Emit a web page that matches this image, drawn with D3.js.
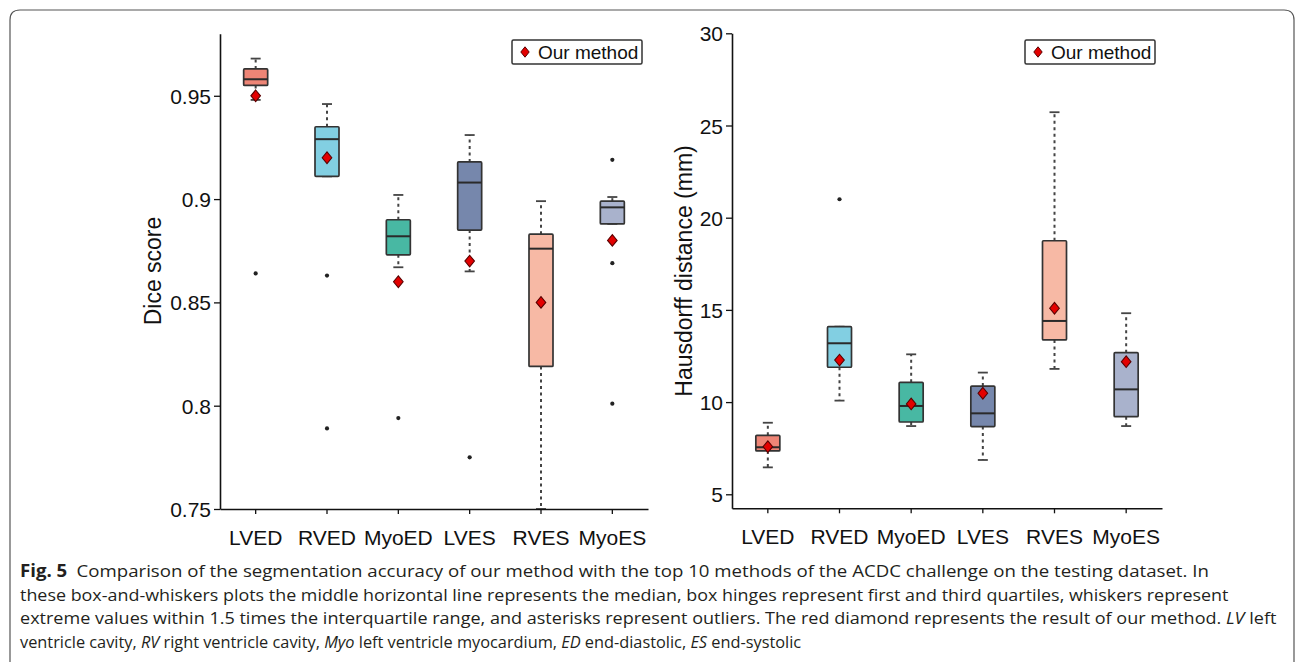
<!DOCTYPE html>
<html>
<head>
<meta charset="utf-8">
<script src="https://cdn.jsdelivr.net/npm/d3@7"></script>
<style>
  body { margin: 0; background: #fff; }
  svg { display: block; }
</style>
</head>
<body>
<svg id="chart" width="1295" height="662"></svg>
<script>
// categories shared by both panels
const categories = ['LVED', 'RVED', 'MyoED', 'LVES', 'RVES', 'MyoES'];
const boxColors = ['#ee8576', '#82cfe2', '#48b8a3', '#7687ac', '#f7b9a5', '#a9b2cc'];

// Dice score (left panel)
const diceLow    = [0.948, 0.911, 0.867, 0.865, 0.750, 0.888];
const diceQ1     = [0.955, 0.911, 0.873, 0.885, 0.819, 0.888];
const diceMedian = [0.958, 0.929, 0.882, 0.908, 0.876, 0.896];
const diceQ3     = [0.963, 0.935, 0.890, 0.918, 0.883, 0.899];
const diceHigh   = [0.968, 0.946, 0.902, 0.931, 0.899, 0.901];
const diceOurs   = [0.950, 0.920, 0.860, 0.870, 0.850, 0.880];
const diceOutliers = [[0.864], [0.863, 0.789], [0.794], [0.775], [], [0.919, 0.869, 0.801]];
const diceTicks = [0.75, 0.8, 0.85, 0.9, 0.95];
const diceTickLabels = ['0.75', '0.8', '0.85', '0.9', '0.95'];

// Hausdorff distance (right panel)
const hdLow    = [6.46, 10.08, 8.70, 6.86, 11.80, 8.70];
const hdQ1     = [7.35, 11.89, 8.92, 8.67, 13.37, 9.21];
const hdMedian = [7.55, 13.19, 9.79, 9.39, 14.40, 10.69];
const hdQ3     = [8.20, 14.09, 11.07, 10.87, 18.75, 12.68];
const hdHigh   = [8.88, 14.09, 12.59, 11.60, 25.72, 14.82];
const hdOurs   = [7.58, 12.28, 9.90, 10.48, 15.09, 12.19];
const hdOutliers = [[], [21.0], [], [], [], []];
const hdTicks = [5, 10, 15, 20, 25, 30];
const hdTickLabels = ['5', '10', '15', '20', '25', '30'];

const legendLabel = 'Our method';

const captionLines = [
  [['b', 'Fig. 5'], ['n', '\u2002Comparison of the segmentation accuracy of our method with the top 10 methods of the ACDC challenge on the testing dataset. In']],
  [['n', 'these box-and-whiskers plots the middle horizontal line represents the median, box hinges represent first and third quartiles, whiskers represent']],
  [['n', 'extreme values within 1.5 times the interquartile range, and asterisks represent outliers. The red diamond represents the result of our method. '], ['i', 'LV'], ['n', ' left']],
  [['n', 'ventricle cavity, '], ['i', 'RV'], ['n', ' right ventricle cavity, '], ['i', 'Myo'], ['n', ' left ventricle myocardium, '], ['i', 'ED'], ['n', ' end-diastolic, '], ['i', 'ES'], ['n', ' end-systolic']]
];
const captionEnds = [1210, 1229, 1278, 802];

const panels = [
  {
    title: 'Dice score',
    low: diceLow, q1: diceQ1, median: diceMedian, q3: diceQ3, high: diceHigh,
    ours: diceOurs, outliers: diceOutliers,
    ticks: diceTicks, tickLabels: diceTickLabels,
    domain: [0.75, 0.98],
    x0: 220, x1: 648, yTop: 33.8, yBottom: 509,
    titleX: 161, legendX: 512
  },
  {
    title: 'Hausdorff distance (mm)',
    low: hdLow, q1: hdQ1, median: hdMedian, q3: hdQ3, high: hdHigh,
    ours: hdOurs, outliers: hdOutliers,
    ticks: hdTicks, tickLabels: hdTickLabels,
    domain: [4.24, 30],
    x0: 732, x1: 1162, yTop: 33.3, yBottom: 508.3,
    titleX: 692, legendX: 1025
  }
];

const svg = d3.select('#chart');
const axisFont = '"Liberation Sans", Arial, Helvetica, sans-serif';

// outer frame with rounded top corners
svg.append('path')
  .attr('d', 'M10,662 L10,20 Q10,10 20,10 L1284,10 Q1294,10 1294,20 L1294,662')
  .attr('fill', 'none')
  .attr('stroke', '#555')
  .attr('stroke-width', 1.2);

function diamond(w, h) {
  return `M0,${-h} L${w},0 L0,${h} L${-w},0 Z`;
}

panels.forEach(p => {
  const x = d3.scaleBand().domain(categories).range([p.x0, p.x1]).padding(0);
  const y = d3.scaleLinear().domain(p.domain).range([p.yBottom, p.yTop]);
  const cx = c => x(c) + x.bandwidth() / 2;
  const boxW = 24;
  const capW = 10;

  const g = svg.append('g');

  const boxes = g.selectAll('g.box')
    .data(categories.map((c, i) => ({
      c, i,
      low: p.low[i], q1: p.q1[i], median: p.median[i], q3: p.q3[i], high: p.high[i],
      ours: p.ours[i], outliers: p.outliers[i]
    })))
    .enter().append('g')
    .classed('box', true);

  // whiskers
  boxes.append('line')
    .attr('x1', d => cx(d.c)).attr('x2', d => cx(d.c))
    .attr('y1', d => y(d.q3)).attr('y2', d => y(d.high))
    .attr('stroke', '#444').attr('stroke-width', 2).attr('stroke-dasharray', '3,3.5');
  boxes.append('line')
    .attr('x1', d => cx(d.c)).attr('x2', d => cx(d.c))
    .attr('y1', d => y(d.q1)).attr('y2', d => y(d.low))
    .attr('stroke', '#444').attr('stroke-width', 2).attr('stroke-dasharray', '3,3.5');
  boxes.append('line')
    .attr('x1', d => cx(d.c) - capW / 2).attr('x2', d => cx(d.c) + capW / 2)
    .attr('y1', d => y(d.high)).attr('y2', d => y(d.high))
    .attr('stroke', '#444').attr('stroke-width', 1.8);
  boxes.append('line')
    .attr('x1', d => cx(d.c) - capW / 2).attr('x2', d => cx(d.c) + capW / 2)
    .attr('y1', d => y(d.low)).attr('y2', d => y(d.low))
    .attr('stroke', '#444').attr('stroke-width', 1.8);

  // box body
  boxes.append('rect')
    .attr('x', d => cx(d.c) - boxW / 2)
    .attr('width', boxW)
    .attr('y', d => y(d.q3))
    .attr('height', d => y(d.q1) - y(d.q3))
    .attr('rx', 1)
    .attr('fill', d => boxColors[d.i])
    .attr('stroke', '#333')
    .attr('stroke-width', 1.7);

  // median
  boxes.append('line')
    .attr('x1', d => cx(d.c) - boxW / 2).attr('x2', d => cx(d.c) + boxW / 2)
    .attr('y1', d => y(d.median)).attr('y2', d => y(d.median))
    .attr('stroke', '#2a2a2a').attr('stroke-width', 2);

  // outliers
  boxes.selectAll('circle.out')
    .data(d => d.outliers.map(v => ({ c: d.c, v })))
    .enter().append('circle')
    .classed('out', true)
    .attr('cx', d => cx(d.c))
    .attr('cy', d => y(d.v))
    .attr('r', 2.1)
    .attr('fill', '#222');

  // our method
  boxes.append('path')
    .attr('d', diamond(4.8, 5.8))
    .attr('transform', d => `translate(${cx(d.c)},${y(d.ours)})`)
    .attr('fill', '#e30000')
    .attr('stroke', '#5a0000')
    .attr('stroke-width', 1.1);

  // axes
  const yAxis = g.append('g')
    .attr('transform', `translate(${p.x0},0)`)
    .call(d3.axisLeft(y).tickValues(p.ticks).tickFormat((d, i) => p.tickLabels[i]).tickSize(6).tickSizeOuter(0).tickPadding(3));
  const xAxis = g.append('g')
    .attr('transform', `translate(0,${p.yBottom})`)
    .call(d3.axisBottom(x).tickSize(5).tickSizeOuter(0).tickPadding(16));

  [yAxis, xAxis].forEach(a => {
    a.select('.domain').attr('stroke', '#111').attr('stroke-width', 1.6);
    a.selectAll('.tick line').attr('stroke', '#111').attr('stroke-width', 1.3);
    a.selectAll('.tick text')
      .attr('fill', '#111')
      .style('font-family', axisFont)
      .style('font-size', '21px');
  });
  yAxis.selectAll('.tick text').attr('dy', '0.36em');

  // axis title
  g.append('text')
    .attr('transform', `translate(${p.titleX},${(33 + 509) / 2}) rotate(-90)`)
    .attr('text-anchor', 'middle')
    .attr('fill', '#111')
    .style('font-family', axisFont)
    .style('font-size', '23px')
    .text(p.title);

  // legend
  const lg = g.append('g').attr('transform', `translate(${p.legendX},40)`);
  lg.append('rect')
    .attr('width', 130).attr('height', 24)
    .attr('rx', 1.5)
    .attr('fill', '#fff')
    .attr('stroke', '#333')
    .attr('stroke-width', 1.5);
  lg.append('path')
    .attr('d', diamond(4.2, 5.2))
    .attr('transform', 'translate(13,12)')
    .attr('fill', '#e30000')
    .attr('stroke', '#5a0000')
    .attr('stroke-width', 1);
  lg.append('text')
    .attr('x', 26).attr('y', 19)
    .attr('fill', '#111')
    .style('font-family', axisFont)
    .style('font-size', '19px')
    .text(legendLabel);
});

// caption
const cap = svg.append('g');
captionLines.forEach((line, li) => {
  const t = cap.append('text')
    .attr('fill', '#231f20')
    .style('font-family', '"Open Sans", "Noto Sans", sans-serif')
    .style('font-size', '17px');
  line.forEach(([kind, str]) => {
    const s = t.append('tspan').text(str);
    if (kind === 'b') s.style('font-weight', 'bold');
    if (kind === 'i') s.style('font-style', 'italic');
  });
  const natural = t.node().getComputedTextLength();
  const sx = (captionEnds[li] - 20) / natural;
  t.attr('transform', `translate(20,${577 + li * 23.5}) scale(${sx},1)`);
});
</script>
</body>
</html>
